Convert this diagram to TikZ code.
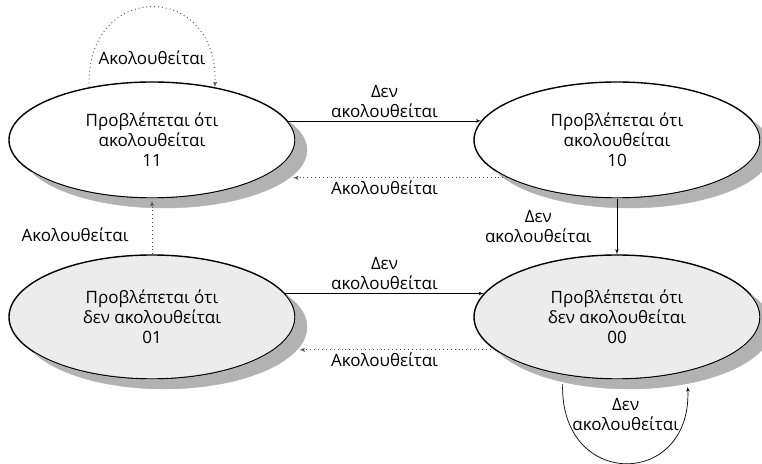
\documentclass[tikz,border=0pt]{standalone}
\usepackage{fontspec}
\setmainfont{Open Sans}
\usepackage{tikz}
\usetikzlibrary{arrows,shapes.geometric}
\tikzset{
		>=latex',
		state/.style={
			ellipse,
			draw=black, line width=1.4pt,
			minimum width=286pt,
			inner sep=0pt,
			align=center},
		taken/.style={
			state,
			fill=white,
			minimum height=116pt},
		nottaken/.style={
			state,
			fill=gray!15,
			minimum height=124pt},
		dropfill/.style={fill=gray!60, draw=gray!60, line width=0.4pt},
		follow/.style={->, draw=gray!60!black, line width=0.9pt,
			dash pattern=on 0.9pt off 3pt},
		nofollow/.style={->, draw=black, line width=0.7pt},
	}

\begin{document}
\begin{tikzpicture}[
			x=1pt, y=1pt,
			every node/.append style={font=\fontsize{17}{20}\selectfont},
			lbl/.style={align=center, inner sep=3pt},
			]
			\useasboundingbox (0,0) rectangle (762,463);

			\node[taken] (S11) at (152,323) {Προβλέπεται ότι\\ακολουθείται\\11};
			\node[taken] (S10) at (617,323) {Προβλέπεται ότι\\ακολουθείται\\10};
			\node[nottaken] (S01) at (152,146) {Προβλέπεται ότι\\δεν ακολουθείται\\01};
			\node[nottaken] (S00) at (617,146) {Προβλέπεται ότι\\δεν ακολουθείται\\00};

			% crescent shadows along the lower right of each state
			\foreach \cx/\cy/\ry/\ta/\tb/\sa/\sb in {152/323/58/-157.4/29.7/-146.6/18.6,
					617/323/58/-157.4/29.7/-146.6/18.6,
					152/146/62/-155.4/31/-145.2/20.5,
					617/146/62/-155.4/31/-145.2/20.5} {
				\fill[dropfill] plot[domain=\ta:\tb, samples=45, smooth]
					({\cx+12+143*cos(\x)}, {\cy-10+\ry*sin(\x)})
					-- plot[domain=\sb:\sa, samples=45, smooth]
					({\cx+143.7*cos(\x)}, {\cy+(\ry+0.7)*sin(\x)}) -- cycle;
			}

			% upper row
			\draw[nofollow] (S11.8) to node[lbl, above] {Δεν\\ακολουθείται} (S10.172);
			\draw[follow, shorten >=31pt] (S10.199) to node[lbl, below] {Ακολουθείται} (S11.-19);
			\draw[follow] (S11.140) .. controls +(-4,107) and +(4,107) ..
			node[lbl, midway, below=40pt] {Ακολουθείται} (S11.40);

			% lower row
			\draw[nofollow] (S01.10) to node[lbl, above] {Δεν\\ακολουθείται} (S00.170);
			\draw[follow, shorten >=25pt] (S00.195) to node[lbl, below] {Ακολουθείται} (S01.-15);
			\draw[nofollow, shorten <=9pt, shorten >=15pt] (S00.227) .. controls +(-3,-115) and +(5,-117) ..
			node[lbl, midway, above=26pt] {Δεν\\ακολουθείται} (S00.-38);

			% between the rows
			\draw[follow, shorten >=2pt] (S01) to node[lbl, pos=.35, left=20pt] {Ακολουθείται} (S11);
			\draw[nofollow] (S10) to node[lbl, left=22pt] {Δεν\\ακολουθείται} (S00);
\end{tikzpicture}
\end{document}
